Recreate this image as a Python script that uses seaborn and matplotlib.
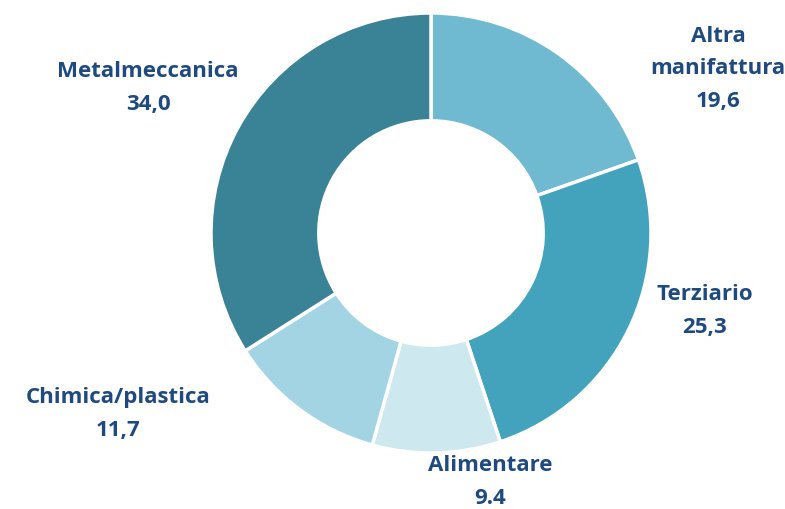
import seaborn as sns
import matplotlib.pyplot as plt

# dati
settori = ["Altra manifattura", "Terziario", "Alimentare", "Chimica/plastica", "Metalmeccanica"]
quote = [19.6, 25.3, 9.4, 11.7, 34.0]
etichette = ["Altra\nmanifattura\n19,6", "Terziario\n25,3", "Alimentare\n9.4",
             "Chimica/plastica\n11,7", "Metalmeccanica\n34,0"]
colori = ["#6FBAD0", "#44A3BC", "#CDE8EF", "#A3D4E3", "#3A8296"]

sns.set_theme(style="white")
plt.rcParams['font.family'] = ['Open Sans', 'DejaVu Sans']

W, H = 785, 510
fig = plt.figure(figsize=(W / 100, H / 100), dpi=100)
cx, cy, r = 431, 234, 220
ax = fig.add_axes([(cx - r) / W, (H - cy - r) / H, 2 * r / W, 2 * r / H])

ax.pie(quote, colors=colori, startangle=90, counterclock=False, radius=1,
       wedgeprops=dict(width=0.49, edgecolor="white", linewidth=2.5))
ax.set_xlim(-1, 1)
ax.set_ylim(-1, 1)
ax.set_aspect("equal")
ax.axis("off")

# posizioni etichette (pixel)
pos = [(718, 69), (705, 311), (490, 482), (118, 414), (148, 88)]
for testo, (x, y) in zip(etichette, pos):
    fig.text(x / W, 1 - y / H, testo, ha="center", va="center", fontsize=16,
             fontweight="bold", color="#1F4A80", linespacing=1.75)

fig.savefig("out.png", dpi=100)
